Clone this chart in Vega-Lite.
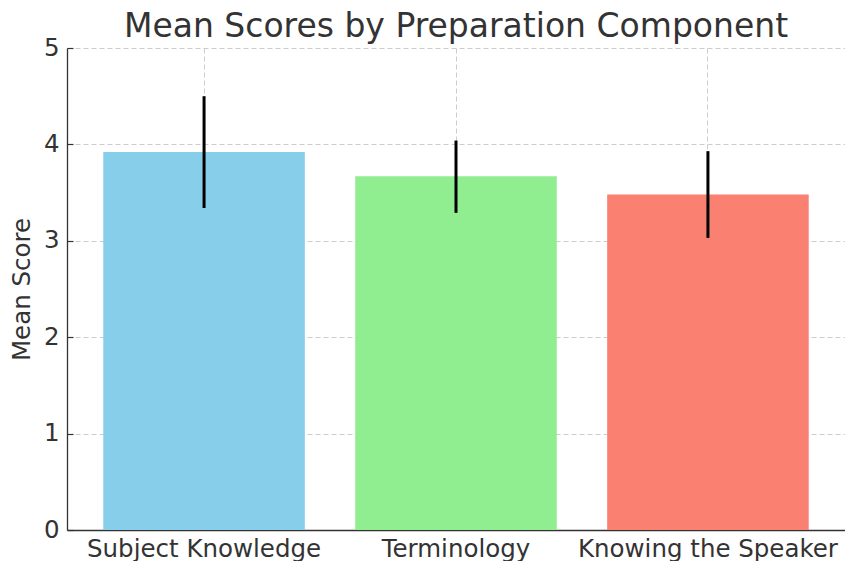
{
  "$schema": "https://vega.github.io/schema/vega-lite/v6.json",
  "width": 778,
  "height": 482,
  "autosize": {"type": "none"},
  "padding": {"left": 67, "top": 48, "right": 0, "bottom": 31},
  "background": "white",
  "config": {
    "view": {"stroke": null},
    "font": "DejaVu Sans",
    "axis": {
      "labelFont": "DejaVu Sans",
      "titleFont": "DejaVu Sans",
      "labelColor": "#333333",
      "titleColor": "#333333",
      "labelFontSize": 24.5,
      "titleFontSize": 24.5,
      "titleFontWeight": "normal",
      "domainColor": "#333333",
      "domainWidth": 1.3,
      "tickColor": "#333333",
      "tickWidth": 1.2,
      "gridColor": "#cccccc",
      "gridDash": [5, 3],
      "gridWidth": 1,
      "labelLimit": 0,
      "zindex": 1
    }
  },
  "title": {
    "text": "Mean Scores by Preparation Component",
    "font": "DejaVu Sans",
    "fontSize": 33,
    "fontWeight": "normal",
    "color": "#333333",
    "anchor": "middle",
    "frame": "group",
    "baseline": "alphabetic",
    "offset": 0,
    "dy": 35
  },
  "data": {
    "values": [
      {"component": "Subject Knowledge", "mean": 3.92, "lower": 3.34, "upper": 4.50},
      {"component": "Terminology", "mean": 3.67, "lower": 3.29, "upper": 4.04},
      {"component": "Knowing the Speaker", "mean": 3.48, "lower": 3.03, "upper": 3.93}
    ]
  },
  "encoding": {
    "x": {
      "field": "component",
      "type": "nominal",
      "sort": null,
      "scale": {"paddingInner": 0.2, "paddingOuter": 0.144},
      "axis": {
        "title": null,
        "labelAngle": 0,
        "grid": true,
        "tickSize": -6,
        "labelPadding": 13,
        "labelBaseline": "top",
        "labelOverlap": false
      }
    }
  },
  "layer": [
    {
      "mark": {"type": "bar"},
      "encoding": {
        "y": {
          "field": "mean",
          "type": "quantitative",
          "scale": {"domain": [0, 5], "nice": false, "zero": true},
          "axis": {
            "title": "Mean Score",
            "values": [0, 1, 2, 3, 4, 5],
            "format": "d",
            "grid": true,
            "tickSize": -6,
            "labelPadding": 14,
            "titleX": -45,
            "titleY": 241,
            "titleAngle": -90,
            "titleAlign": "center",
            "titleBaseline": "middle"
          }
        },
        "color": {
          "field": "component",
          "type": "nominal",
          "sort": null,
          "scale": {
            "domain": ["Subject Knowledge", "Terminology", "Knowing the Speaker"],
            "range": ["#87CEEB", "#90EE90", "#FA8072"]
          },
          "legend": null
        }
      }
    },
    {
      "mark": {"type": "rule", "color": "black", "strokeWidth": 3},
      "encoding": {
        "y": {"field": "lower", "type": "quantitative"},
        "y2": {"field": "upper"}
      }
    }
  ]
}
